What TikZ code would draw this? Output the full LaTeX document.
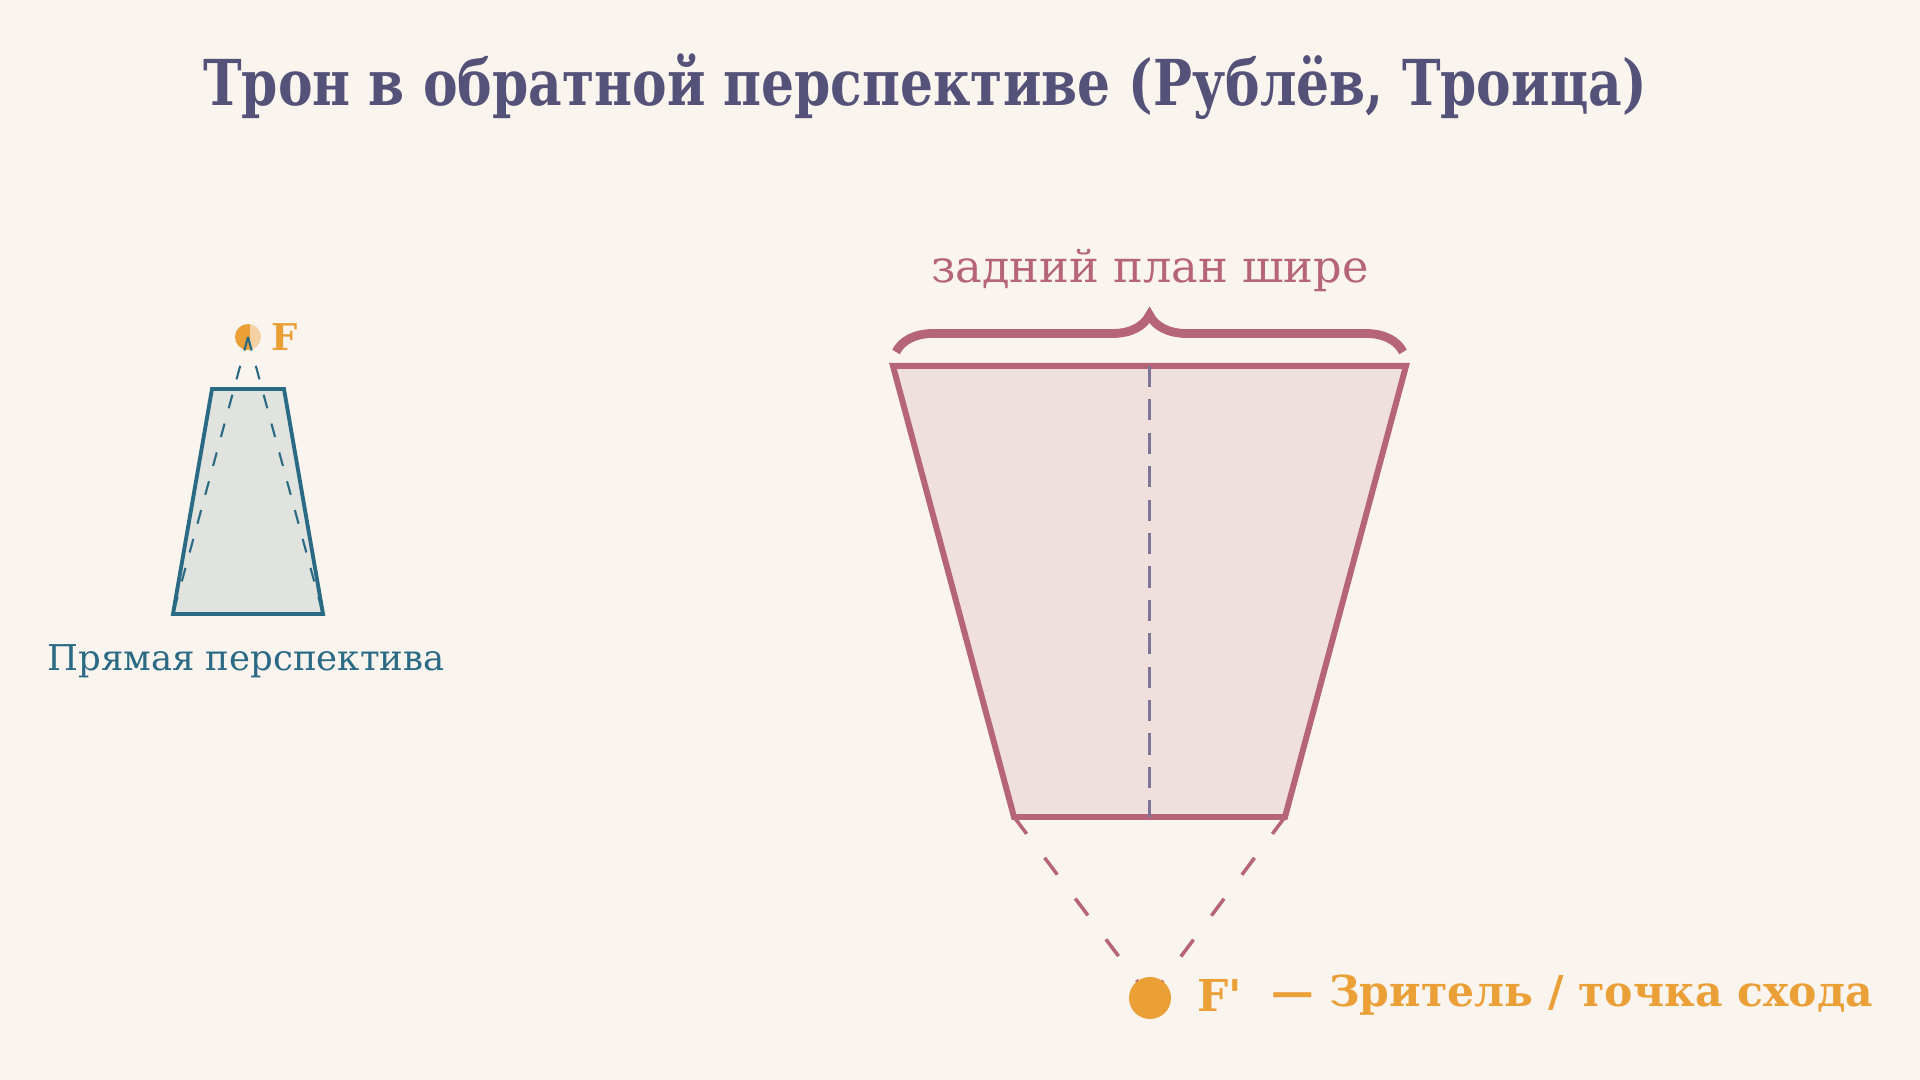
\documentclass[tikz,border=0pt]{standalone}
\usepackage{fontspec}
\setmainfont{DejaVu Serif}
\usetikzlibrary{decorations.pathreplacing}

\definecolor{bgcream}{HTML}{FAF4EE}
\definecolor{titleviolet}{HTML}{555279}
\definecolor{tealline}{HTML}{2A6A84}
\definecolor{tealfill}{HTML}{E1E3DF}
\definecolor{roseline}{HTML}{B5647A}
\definecolor{rosefill}{HTML}{EFDFDD}
\definecolor{axisgray}{HTML}{7E7496}
\definecolor{ochre}{HTML}{EBA037}

\begin{document}
\begin{tikzpicture}[x=0.01cm, y=-0.01cm,
    focusdot/.style={circle, fill=ochre, inner sep=0pt},
    sightline/.style={line width=0.6pt, dash pattern=on 4pt off 4.5pt}]
    % Background
    \fill[bgcream] (0,0) rectangle (1920,1080);
    \useasboundingbox (0,0) rectangle (1920,1080);

    % Title
    \node[titleviolet, font=\bfseries\fontsize{18}{21}\selectfont] (title) at (925,87)
        {\scalebox{0.82}[1]{Трон в обратной перспективе (Рублёв, Троица)}};

    % Direct perspective
    \coordinate (ltl) at (212,389);
    \coordinate (ltr) at (284,389);
    \coordinate (lbl) at (173,614);
    \coordinate (lbr) at (323,614);
    \draw[tealline, line width=1.1pt, fill=tealfill] (lbl) -- (ltl) -- (ltr) -- (lbr) -- cycle;
    \node[focusdot, minimum size=0.26cm] (F) at (248,337) {};
    \node[fill=bgcream, fill opacity=0.6, text opacity=1, minimum width=0.7cm, minimum height=0.3cm,
        inner sep=0pt] (Fbox) at (285,337) {};
    \node[ochre, font=\bfseries\fontsize{10.5}{12}\selectfont] (Flabel) at (285,337) {F};
    \draw[tealline, sightline] (F.center) -- (lbl);
    \draw[tealline, sightline] (F.center) -- (lbr);
    \node[tealline, font=\fontsize{10.1}{12}\selectfont] (direct) at (246,661) {Прямая перспектива};

    % Reverse perspective
    \coordinate (rtl) at (893,366);
    \coordinate (rtr) at (1406,366);
    \coordinate (rbl) at (1014,817);
    \coordinate (rbr) at (1285,817);
    \coordinate (rtm) at (1149.5,366);
    \coordinate (rbm) at (1149.5,817);
    \draw[roseline, line width=1.7pt, fill=rosefill] (rbl) -- (rtl) -- (rtr) -- (rbr) -- cycle;
    \draw[axisgray, line width=0.7pt, dash pattern=on 6pt off 3.5pt] (rtm) -- (rbm);

    % Brace over the back edge
    \coordinate (bl) at (896,352);
    \coordinate (br) at (1403,352);
    \draw[roseline, line width=2.5pt, decorate, decoration={brace, amplitude=0.37cm}] (bl) -- (br);
    \node[roseline, font=\fontsize{12.7}{15}\selectfont] (wider) at (1150,270) {задний план шире};

    % Viewer
    \coordinate (Fp) at (1150,998);
    \draw[roseline, line width=1pt, dash pattern=on 6pt off 8.5pt] (rbl) -- (Fp);
    \draw[roseline, line width=1pt, dash pattern=on 6pt off 8.5pt] (rbr) -- (Fp);
    \node[focusdot, minimum size=0.42cm] (viewer) at (Fp) {};
    \node[ochre, anchor=west, inner sep=0pt, font=\bfseries\fontsize{12.5}{15}\selectfont] (Fplabel)
        at (1197,995) {F\textquotesingle};
    \node[ochre, anchor=west, inner sep=0pt, font=\bfseries\fontsize{12.1}{15}\selectfont] (viewerlabel)
        at (1271,995) {— Зритель / точка схода};
\end{tikzpicture}
\end{document}
